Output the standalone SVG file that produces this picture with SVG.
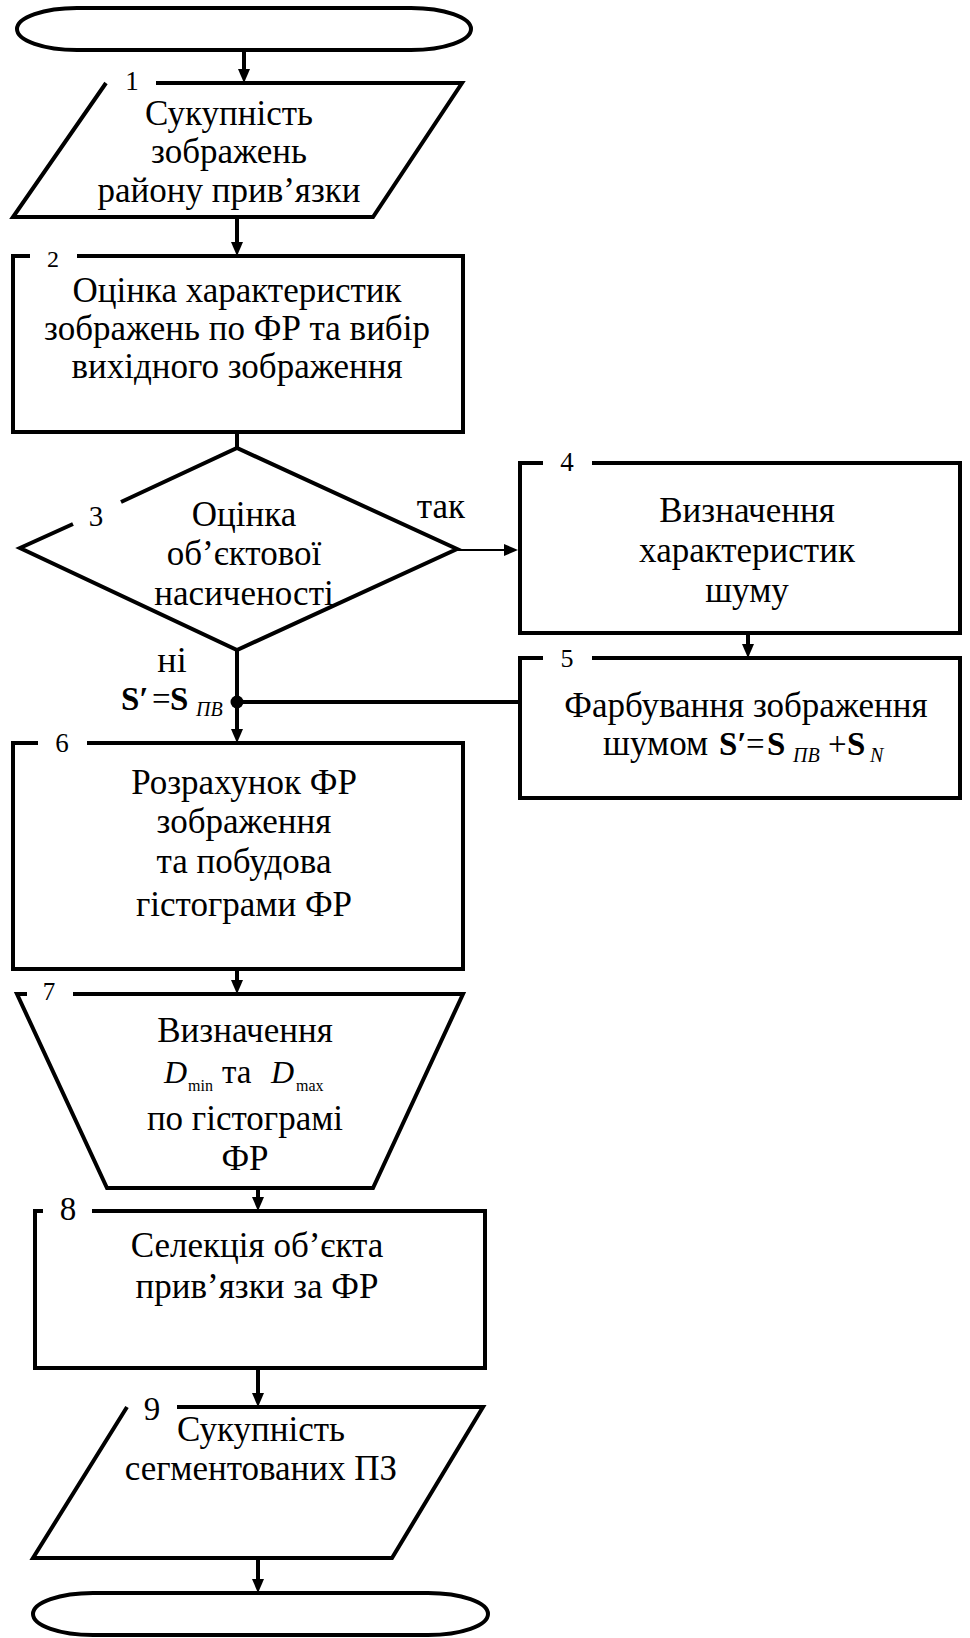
<svg xmlns="http://www.w3.org/2000/svg" width="970" height="1638" viewBox="0 0 970 1638">
<style>
.shape{fill:none;stroke:#000;stroke-width:4;stroke-linejoin:miter}
.conn{fill:none;stroke:#000;stroke-width:4}
.thin{stroke-width:2}
text{font-family:"Liberation Serif","Times New Roman",serif;fill:#000}
.t{font-size:35px;text-anchor:middle}
.lbl{text-anchor:middle}
.b{font-weight:bold}
.i{font-style:italic}
</style>
<defs>
<marker id="arr" viewBox="0 0 14 12" markerWidth="14" markerHeight="12" refX="1" refY="6" orient="auto" markerUnits="userSpaceOnUse">
<path d="M0,0 L14,6 L0,12 z" fill="#000"/>
</marker>
</defs>
<rect x="0" y="0" width="970" height="1638" fill="#fff"/>

<g id="connectors">
<line class="conn" x1="244" y1="50" x2="244" y2="70" marker-end="url(#arr)"/>
<line class="conn" x1="237" y1="217" x2="237" y2="243" marker-end="url(#arr)"/>
<line class="conn" x1="237" y1="432" x2="237" y2="448"/>
<line class="conn thin" x1="457" y1="550" x2="505" y2="550" marker-end="url(#arr)"/>
<line class="conn" x1="748" y1="633" x2="748" y2="645" marker-end="url(#arr)"/>
<line class="conn" x1="237" y1="650" x2="237" y2="730" marker-end="url(#arr)"/>
<line class="conn" x1="520" y1="702" x2="237" y2="702"/>
<circle cx="237" cy="702" r="6.5" fill="#000"/>
<line class="conn" x1="237" y1="969" x2="237" y2="981" marker-end="url(#arr)"/>
<line class="conn" x1="258" y1="1188" x2="258" y2="1198" marker-end="url(#arr)"/>
<line class="conn" x1="258" y1="1368" x2="258" y2="1394" marker-end="url(#arr)"/>
<line class="conn" x1="258" y1="1558" x2="258" y2="1580" marker-end="url(#arr)"/>
<text x="441" y="518" font-size="35" text-anchor="middle">так</text>
<text x="172" y="672" font-size="36" text-anchor="middle">ні</text>
<text y="710" font-size="33"><tspan x="121" class="b">S′</tspan><tspan x="152">=</tspan><tspan x="170" class="b">S</tspan><tspan x="196" y="716" font-size="20" class="i">ПВ</tspan></text>
</g>

<g id="start">
<rect class="shape" x="17" y="8" width="454" height="42" rx="60" ry="21"/>
</g>

<g id="node1">
<path class="shape" d="M156,83 H462 L373,217 H13 L106,83"/>
<text class="lbl" x="132" y="90" font-size="27">1</text>
<text class="t" x="229" y="125">Сукупність</text>
<text class="t" x="229" y="163">зображень</text>
<text class="t" x="229" y="202">району прив’язки</text>
</g>

<g id="node2">
<path class="shape" d="M77,256 H463 V432 H13 V256 H30"/>
<text class="lbl" x="53" y="267" font-size="24">2</text>
<text class="t" x="237" y="302">Оцінка характеристик</text>
<text class="t" x="237" y="340">зображень по ФР та вибір</text>
<text class="t" x="237" y="378">вихідного зображення</text>
</g>

<g id="node3">
<path class="shape" d="M121,502 L237,448 L457,549 L237,650 L20,548 L73,524"/>
<text class="lbl" x="96" y="526" font-size="29">3</text>
<text class="t" x="244" y="526">Оцінка</text>
<text class="t" x="244" y="565">об’єктової</text>
<text class="t" x="244" y="605">насиченості</text>
</g>

<g id="node4">
<path class="shape" d="M592,463 H960 V633 H520 V463 H543"/>
<text class="lbl" x="567" y="471" font-size="27">4</text>
<text class="t" x="747" y="522">Визначення</text>
<text class="t" x="747" y="562">характеристик</text>
<text class="t" x="747" y="602">шуму</text>
</g>

<g id="node5">
<path class="shape" d="M592,658 H960 V798 H520 V658 H543"/>
<text class="lbl" x="567" y="667" font-size="26">5</text>
<text class="t" x="746" y="717">Фарбування зображення</text>
<text y="755" font-size="35"><tspan x="603">шумом</tspan><tspan x="719" font-size="33" class="b">S′</tspan><tspan x="746" font-size="33">=</tspan><tspan x="767" font-size="33" class="b">S</tspan><tspan x="793" y="762" font-size="20" class="i">ПВ</tspan><tspan x="828" y="755" font-size="33">+</tspan><tspan x="847" font-size="33" class="b">S</tspan><tspan x="870" y="762" font-size="20" class="i">N</tspan></text>
</g>

<g id="node6">
<path class="shape" d="M87,743 H463 V969 H13 V743 H38"/>
<text class="lbl" x="62" y="752" font-size="27">6</text>
<text class="t" x="244" y="794">Розрахунок ФР</text>
<text class="t" x="244" y="833">зображення</text>
<text class="t" x="244" y="873">та побудова</text>
<text class="t" x="244" y="916">гістограми ФР</text>
</g>

<g id="node7">
<path class="shape" d="M73,994 H463 L373,1188 H107 L17,994 H27"/>
<text class="lbl" x="49" y="1000" font-size="25">7</text>
<text class="t" x="245" y="1042">Визначення</text>
<text y="1083" font-size="32"><tspan x="164" class="i">D</tspan><tspan x="188" y="1091" font-size="16">min</tspan><tspan x="222" y="1083" font-size="33">та</tspan><tspan x="271" class="i">D</tspan><tspan x="296" y="1091" font-size="16">max</tspan></text>
<text class="t" x="245" y="1130">по гістограмі</text>
<text class="t" x="245" y="1170">ФР</text>
</g>

<g id="node8">
<path class="shape" d="M92,1211 H485 V1368 H35 V1211 H43"/>
<text class="lbl" x="68" y="1220" font-size="33">8</text>
<text class="t" x="257" y="1257">Селекція об’єкта</text>
<text class="t" x="257" y="1298">прив’язки за ФР</text>
</g>

<g id="node9">
<path class="shape" d="M177,1407 H483 L392,1558 H33 L127,1407"/>
<text class="lbl" x="152" y="1420" font-size="33">9</text>
<text class="t" x="261" y="1441">Сукупність</text>
<text class="t" x="261" y="1480">сегментованих ПЗ</text>
</g>

<g id="end">
<rect class="shape" x="33" y="1593" width="455" height="42" rx="60" ry="21"/>
</g>
</svg>
